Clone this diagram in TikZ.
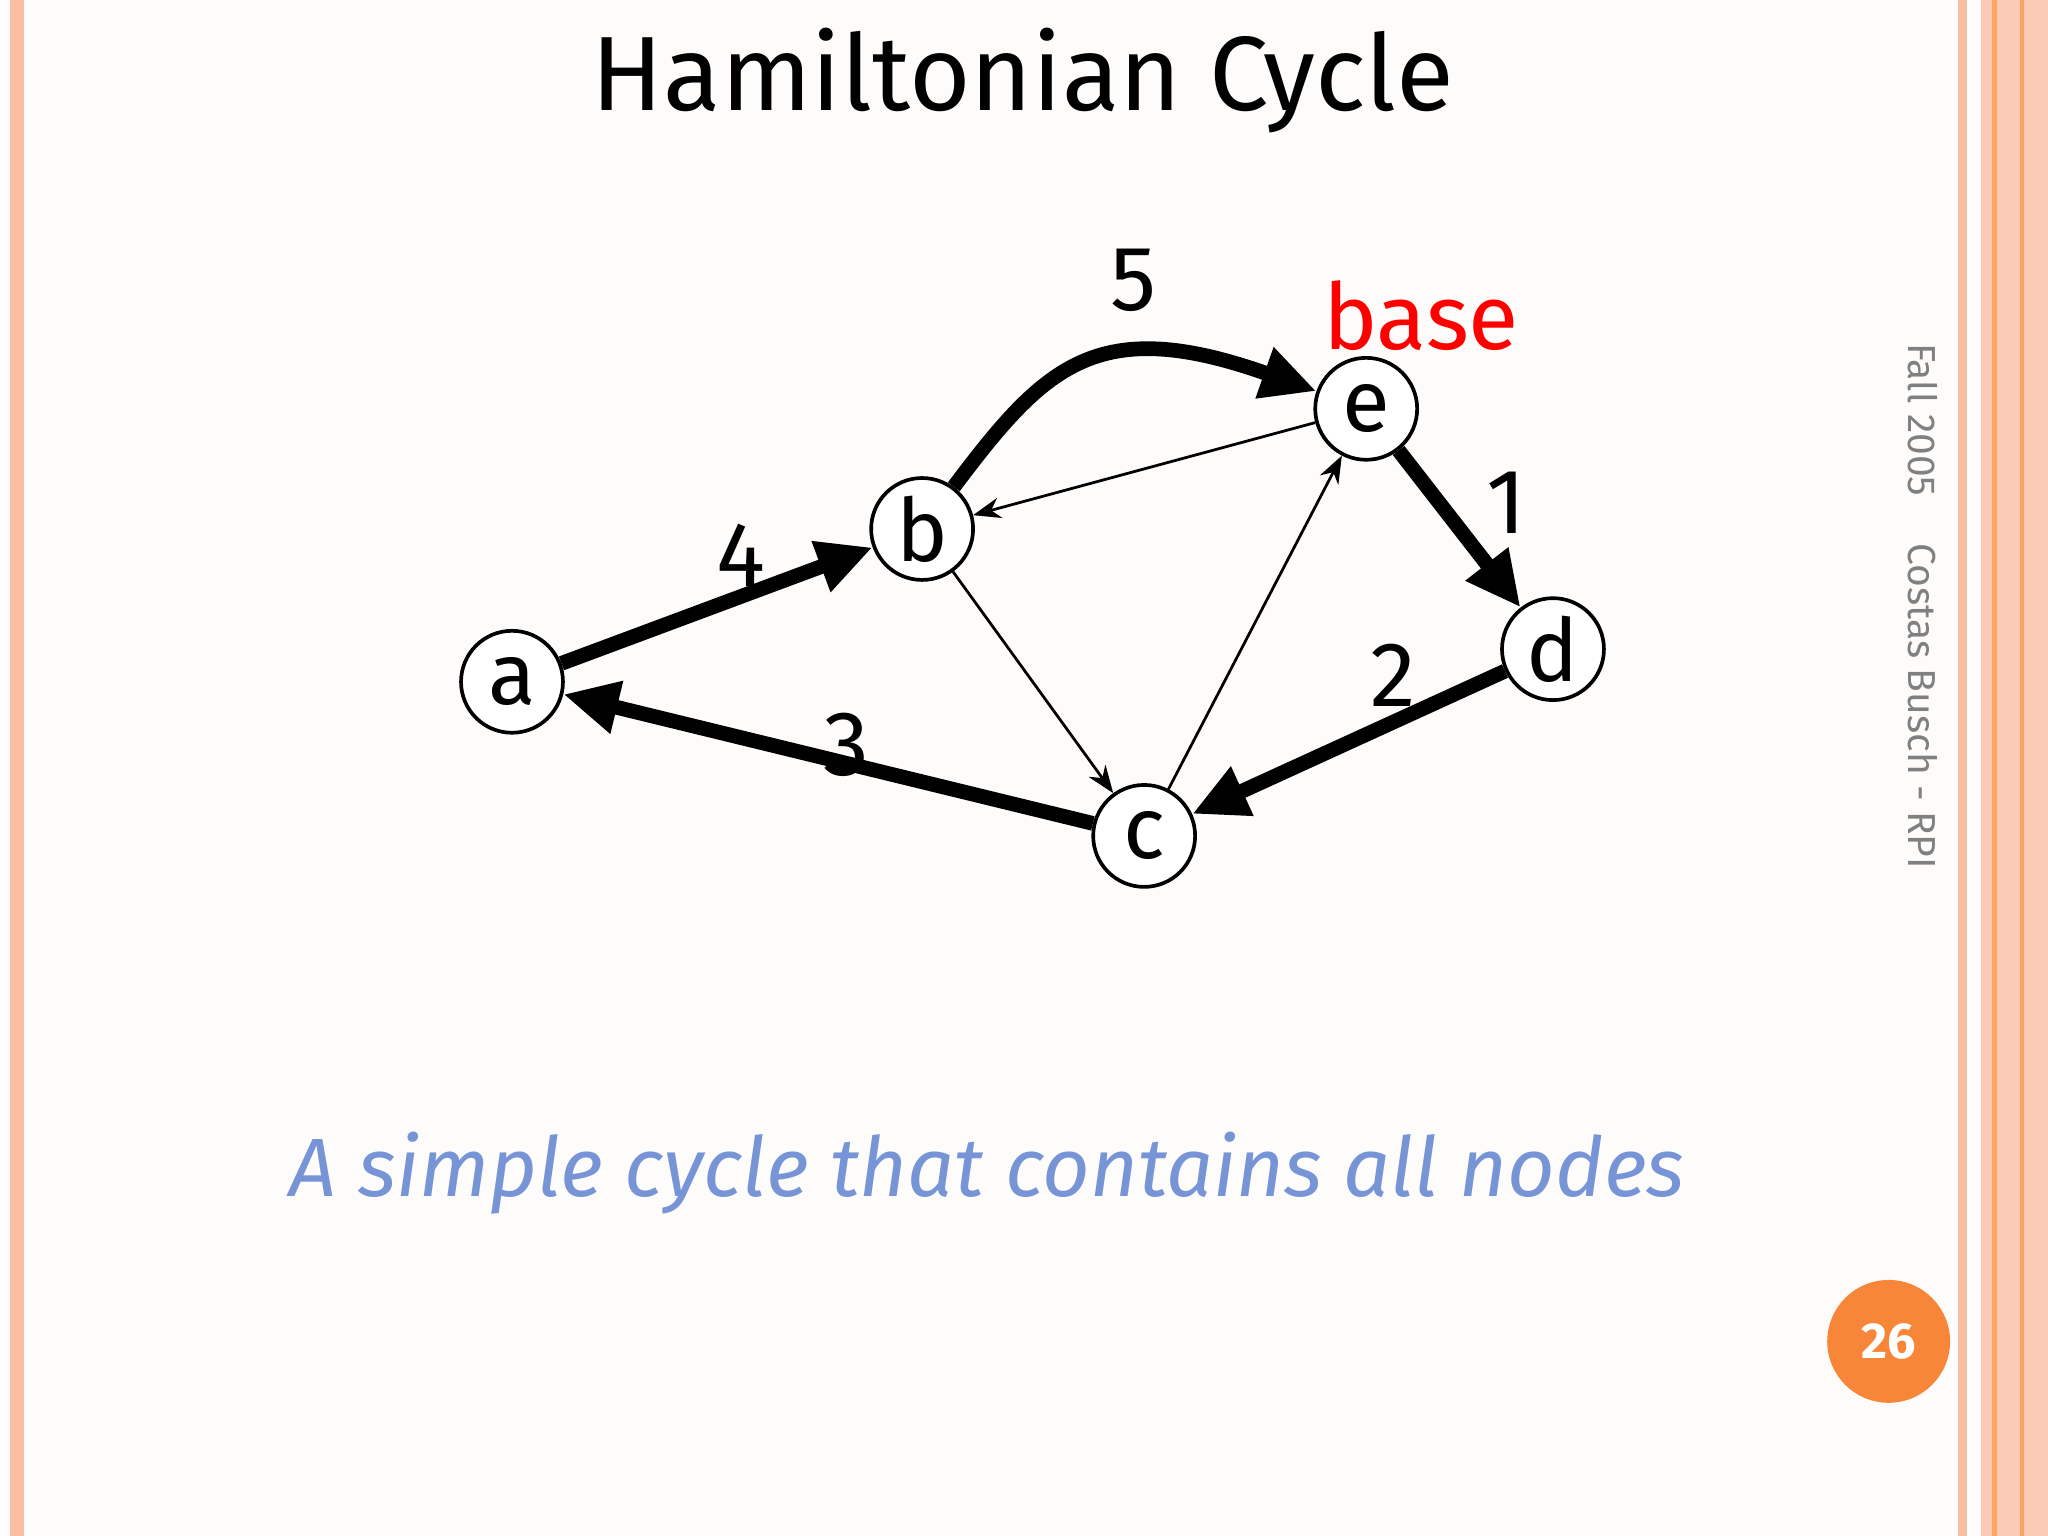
\documentclass[tikz,border=0pt]{standalone}
\usepackage{fontspec}
\setmainfont{Fira Sans}
\usetikzlibrary{arrows.meta}
\definecolor{salmon}{RGB}{250,190,165}
\definecolor{bluetxt}{RGB}{119,149,214}
\definecolor{orangec}{RGB}{247,134,56}
\definecolor{bg}{RGB}{254,252,250}
\begin{document}
\begin{tikzpicture}[x=0.01cm,y=-0.01cm,
  vtx/.style={circle,draw,thick,fill=white,minimum size=0.78cm,inner sep=0pt,font=\fontsize{19}{21}\selectfont},
  heavy/.style={line width=3.2pt,-{Triangle[length=12pt,width=11pt]}},
  light/.style={line width=0.6pt,-{Stealth[length=6pt]}},
  lab/.style={font=\fontsize{20}{22}\selectfont}]
\useasboundingbox (0,0) rectangle (1568,1176);
\fill[bg] (0,0) rectangle (1568,1176);
\fill[salmon] (8,0) rectangle (18,1176);
\fill[salmon] (1499,0) rectangle (1506,1176);
\fill[salmon!80] (1517,0) rectangle (1568,1176);
\draw[salmon!60!orange,line width=1pt] (1527,0) -- (1527,1176) (1548,0) -- (1548,1176);
\node (title) at (783,62) {\fontsize{23}{26}\selectfont Hamiltonian Cycle};
\node[vtx] (a) at (392,522) {a};
\node[vtx] (b) at (706,405) {b};
\node[vtx] (e) at (1046,313) {e};
\node[vtx] (d) at (1189,497) {d};
\node[vtx] (c) at (876,640) {c};
\draw[heavy] (a) -- (b);
\draw[heavy] (b) .. controls (800,280) and (840,240) .. (e);
\draw[heavy] (e) -- (d);
\draw[heavy] (d) -- (c);
\draw[heavy] (c) -- (a);
\draw[light] (e) -- (b);
\draw[light] (b) -- (c);
\draw[light] (c) -- (e);
\node[lab] (l5) at (868,215) {5};
\node[lab,red] (lbase) at (1088,242) {base};
\node[lab] (l1) at (1153,385) {1};
\node[lab] (l4) at (567,425) {4};
\node[lab] (l2) at (1067,517) {2};
\node[lab] (l3) at (648,570) {3};
\node[bluetxt] (sub) at (756,898) {\fontsize{18}{22}\selectfont\itshape A simple cycle that contains all nodes};
\node[gray,rotate=-90,anchor=north west,inner sep=0pt] (side) at (1484,262) {\fontsize{8.5}{10}\selectfont Fall 2005\hspace{1.2em}Costas Busch - RPI};
\node[circle,fill=orangec,minimum size=0.94cm,text=white,font=\bfseries\fontsize{11}{12}\selectfont] (pg) at (1446,1027) {26};
\end{tikzpicture}
\end{document}
